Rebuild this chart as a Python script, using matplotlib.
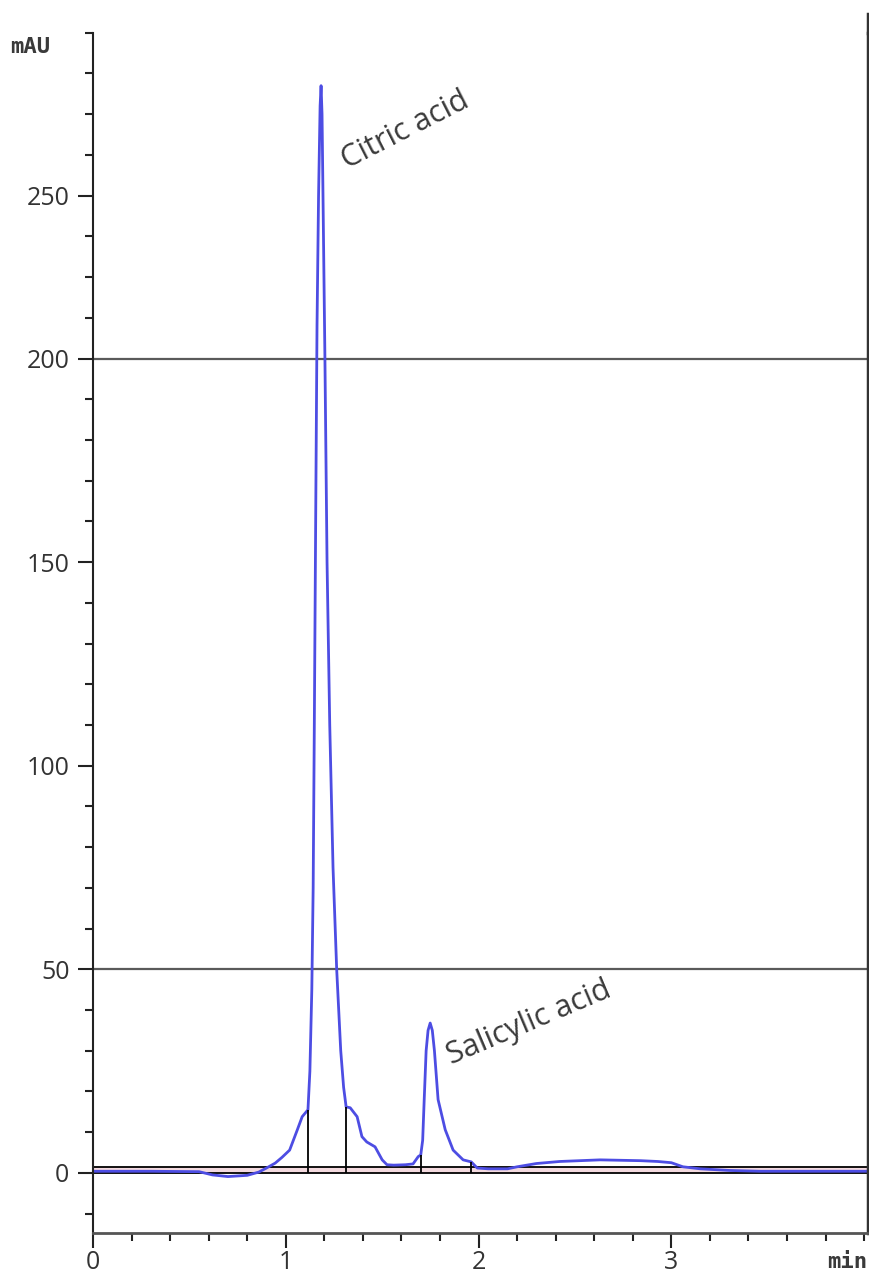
import numpy as np
import matplotlib
matplotlib.use('agg')
import matplotlib.pyplot as plt
from matplotlib.ticker import FixedLocator
from matplotlib.lines import Line2D

# chromatogram trace (min, mAU)
times = [0.0, 0.3, 0.55, 0.62, 0.7, 0.8, 0.86, 0.9, 0.945, 0.98, 1.02, 1.06, 1.085,
         1.115, 1.125, 1.135, 1.142, 1.148, 1.155, 1.162, 1.170, 1.178, 1.183, 1.188,
         1.195, 1.203, 1.214, 1.228, 1.245, 1.264, 1.285, 1.300, 1.313, 1.334, 1.37,
         1.395, 1.42, 1.463, 1.50, 1.525, 1.56, 1.62, 1.66, 1.687, 1.70, 1.71, 1.718,
         1.728, 1.738, 1.749, 1.760, 1.771, 1.79, 1.827, 1.868, 1.92, 1.962, 1.993,
         2.05, 2.15, 2.2, 2.3, 2.42, 2.63, 2.84, 2.93, 3.0, 3.06, 3.15, 3.3, 3.46, 4.02]
signal = [0.4, 0.4, 0.3, -0.5, -0.9, -0.6, 0.2, 1.2, 2.4, 3.8, 5.6, 10.6, 13.8,
          15.5, 25, 45, 70, 110, 160, 210, 250, 272, 277, 270,
          240, 200, 150, 110, 75, 50, 30, 21, 16.2, 16, 13.8,
          8.9, 7.6, 6.4, 3.2, 2.0, 1.9, 2.0, 2.2, 4.0, 4.4, 8, 18,
          30, 35, 36.8, 35, 30, 18, 10.6, 5.6, 3.2, 2.7, 1.2,
          1.0, 1.0, 1.5, 2.3, 2.8, 3.2, 3.0, 2.8, 2.5, 1.5, 1.0, 0.6, 0.4, 0.4]

# peak delimiters (time, height)
cut_times = [1.115, 1.313, 1.70, 1.962]
cut_heights = [15.5, 16.2, 4.4, 2.7]
baselines = [0.0, 1.5]

peak_names = ["Citric acid", "Salicylic acid"]
label_t = [1.335, 1.87]
label_v = [255, 25.0]
label_rot = [27, 23]

y_major = [0, 50, 100, 150, 200, 250]
y_minor = [-10, 10, 20, 30, 40, 60, 70, 80, 90, 110, 120, 130, 140,
           160, 170, 180, 190, 212.5, 225, 237.5, 260, 270, 280, 290]
x_major = [0, 1, 2, 3]
x_minor = [0.2, 0.4, 0.6, 0.8, 1.2, 1.4, 1.6, 1.8, 2.2, 2.4, 2.6, 2.8,
           3.2, 3.4, 3.6, 3.8, 4.0]
grid_levels = [200, 50]


# the 200-250 band is squeezed in the original screenshot
def fwd(v):
    v = np.asarray(v, dtype=float)
    return np.where(v <= 200, v, np.where(v <= 250, 200 + 0.8 * (v - 200), v - 10))


def inv(u):
    u = np.asarray(u, dtype=float)
    return np.where(u <= 200, u, np.where(u <= 240, 200 + (u - 200) / 0.8, u + 10))


plt.rcParams['font.family'] = ['Open Sans', 'DejaVu Sans']

fig = plt.figure(figsize=(8.7, 12.79), dpi=100)
ax = fig.add_axes([0.1069, 0.036, 0.8908, 0.9384])
ax.set_yscale('function', functions=(fwd, inv))

ax.fill_between([0, 4.02], baselines[0], baselines[1], color='#f3d9de', lw=0)
for b in baselines:
    ax.axhline(b, color='black', lw=1.3)
for g in grid_levels:
    ax.axhline(g, color='#5a5a5a', lw=1.6)

ax.plot(times, signal, color='#4d4de3', lw=2.0)
ax.vlines(cut_times, 0, cut_heights, color='black', lw=1.3)

for name, t, v, r in zip(peak_names, label_t, label_v, label_rot):
    ax.text(t, v, name, rotation=r, rotation_mode='anchor', fontsize=22,
            color='#3a3a3a', ha='left', va='bottom')

ax.set_xlim(0, 4.02)
ax.set_ylim(-14.75, 290)
ax.yaxis.set_major_locator(FixedLocator(y_major))
ax.yaxis.set_minor_locator(FixedLocator(y_minor))
ax.xaxis.set_major_locator(FixedLocator(x_major))
ax.xaxis.set_minor_locator(FixedLocator(x_minor))
ax.set_yticklabels([str(v) for v in y_major])
ax.set_xticklabels([str(v) for v in x_major])

ax.tick_params(which='major', length=11, width=1.5, color='#222222',
               labelsize=18, labelcolor='#333333', pad=6)
ax.tick_params(axis='x', which='major', pad=1)
ax.tick_params(which='minor', length=6, width=1.5, color='#222222')

ax.spines['top'].set_visible(False)
ax.spines['left'].set_linewidth(1.5)
ax.spines['left'].set_color('#222222')
ax.spines['bottom'].set_linewidth(2)
ax.spines['bottom'].set_color('#555555')
ax.spines['right'].set_linewidth(2.5)
ax.spines['right'].set_color('#333333')

# window border above the plot on the right
fig.add_artist(Line2D([0.9977, 0.9977], [0.9742, 0.989], color='#333333', lw=2.5))

fig.text(0.012, 0.963, "mAU", fontsize=16, fontweight='bold', color='#3a3a3a',
         family='DejaVu Sans Mono', va='center')
fig.text(0.951, 0.013, "min", fontsize=16, fontweight='bold', color='#3a3a3a',
         family='DejaVu Sans Mono', va='center')

fig.savefig("out.png", dpi=100)
